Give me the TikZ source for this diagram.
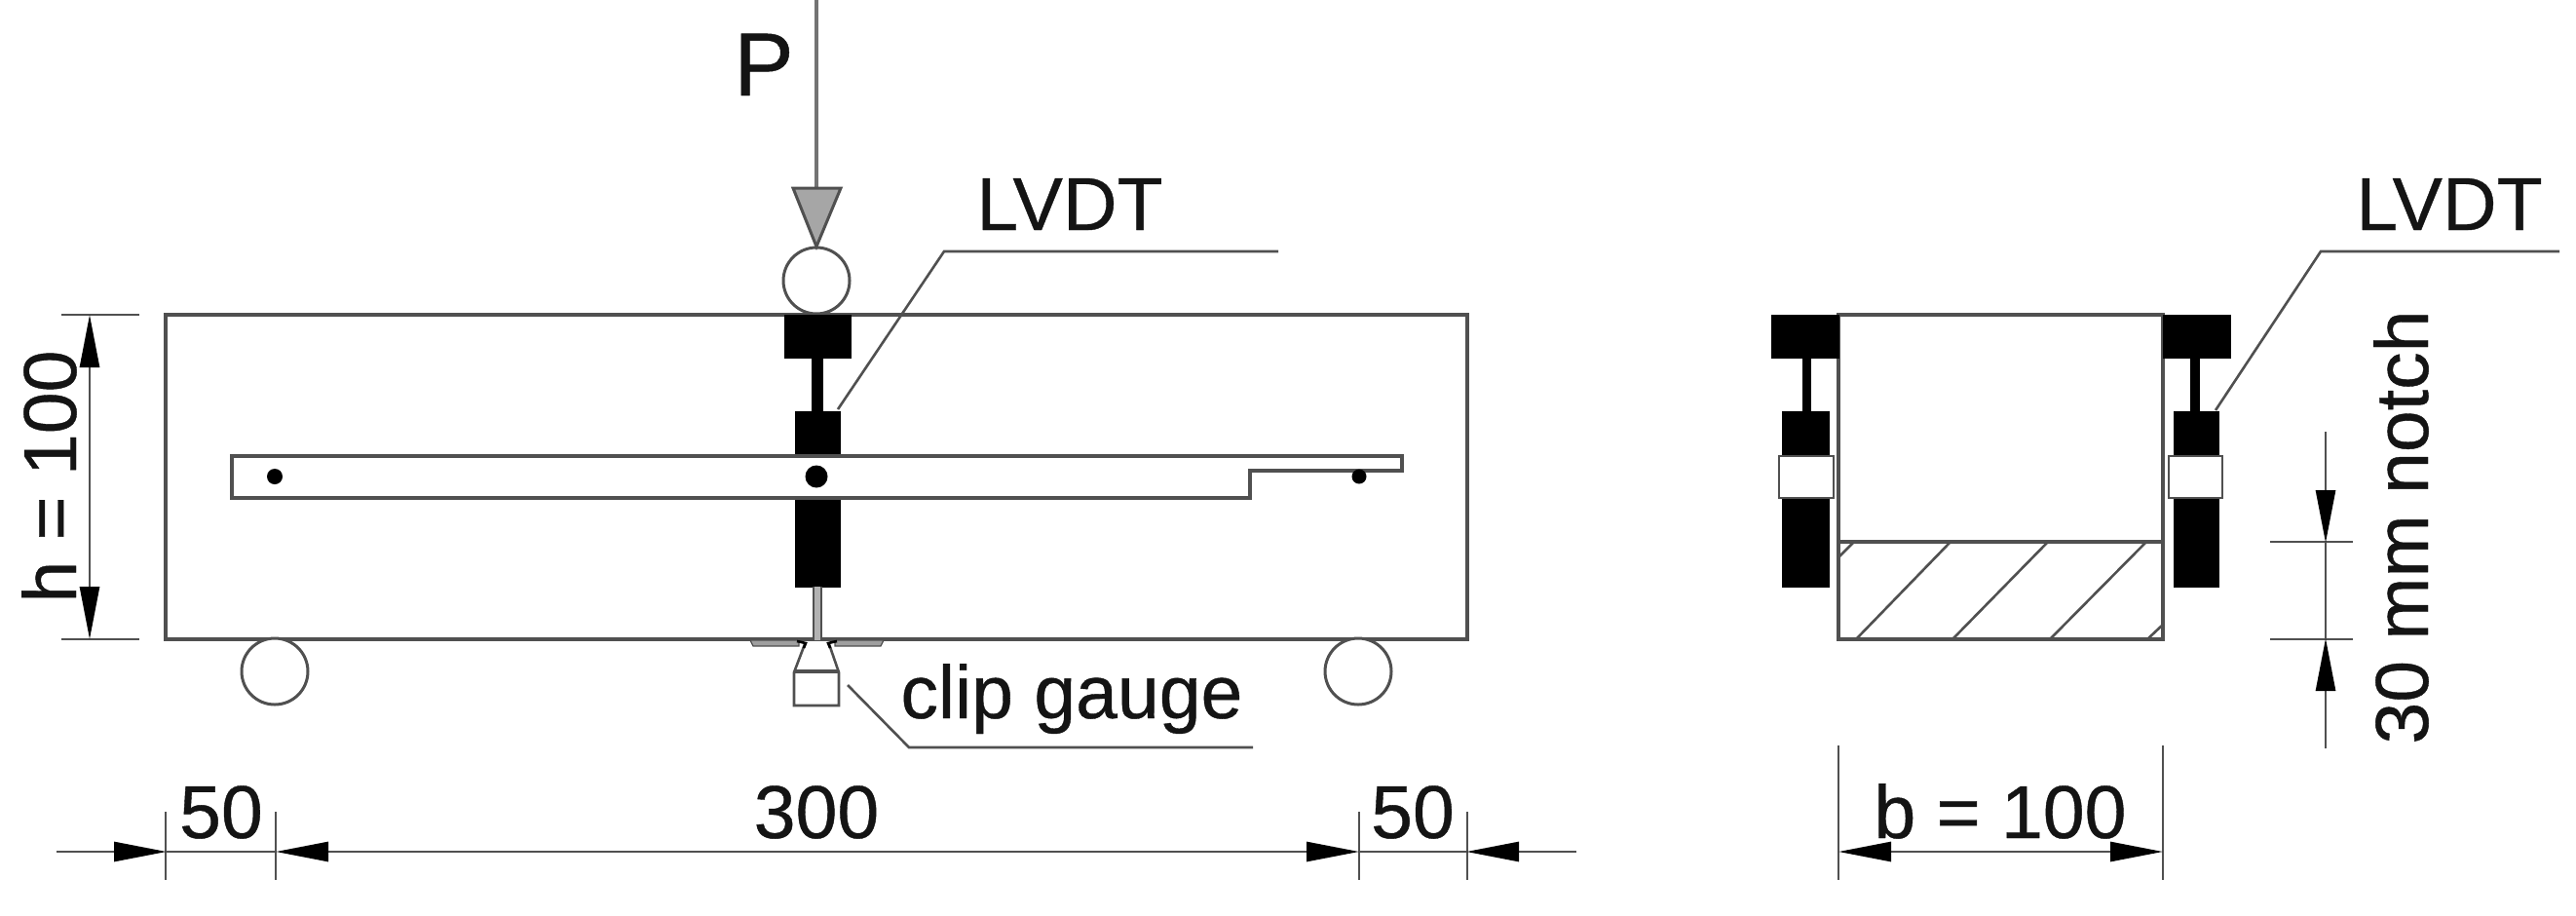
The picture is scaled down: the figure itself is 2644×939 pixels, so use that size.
\documentclass[tikz,border=0pt]{standalone}
\usepackage{fontspec}
\setmainfont{Liberation Sans}
\newfontfamily\lblfont[RawFeature={embolden=0.5}]{Liberation Sans}
\usetikzlibrary{arrows.meta}
\definecolor{ln}{HTML}{505050}
\definecolor{tx}{HTML}{141414}
\tikzset{
  px/.style={x=0.5pt,y=-0.5pt},
  ln/.style={draw=ln,line width=1.9pt},
  thin ln/.style={draw=ln,line width=1.3pt},
  solid black/.style={fill=black,draw=black,line width=0.4pt},
  roller/.style={draw=ln,line width=1.5pt,fill=white},
  label/.style={inner sep=0pt,text=tx,font=\lblfont\fontsize{38.5}{44}\selectfont,anchor=base},
  dimarrow/.style={draw=ln,line width=1.4pt,-{Triangle[length=27pt,width=10pt,fill=black,color=black]},shorten >=-0.5pt},
  dimline/.style={draw=ln,line width=1.4pt},
  dimboth/.style={draw=ln,line width=1.4pt,{Triangle[length=27pt,width=10pt,fill=black,color=black]}-{Triangle[length=27pt,width=10pt,fill=black,color=black]}},
}
\begin{document}
\begin{tikzpicture}[px]
\useasboundingbox (0,0) rectangle (2644,939);
% named ends
\coordinate (hA) at (92,323); \coordinate (hB) at (92,656);
\coordinate (b1) at (58,874); \coordinate (x1) at (170,874); \coordinate (x2) at (283,874);
\coordinate (x3) at (1395,874); \coordinate (x4) at (1506,874); \coordinate (b2) at (1618,874);
\coordinate (s1) at (1887,874); \coordinate (s2) at (2220,874);
\coordinate (n0) at (2387,443); \coordinate (n1) at (2387,556); \coordinate (n2) at (2387,656); \coordinate (n3) at (2387,768);
% specimen
\draw[ln] (170,323) rectangle (1506,656);
% rollers
\node[roller,circle,minimum size=34pt,inner sep=0pt] (rollerL) at (282,689) {};
\node[roller,circle,minimum size=34pt,inner sep=0pt] (rollerR) at (1394,689) {};
\node[roller,circle,minimum size=34pt,inner sep=0pt] (rollerT) at (838,288) {};
% load P
\coordinate (loadtop) at (838,0);
\coordinate (tipL) at (814,193); \coordinate (tipR) at (863,193); \coordinate (tipB) at (838,253);
\draw[draw=ln!80,line width=2.2pt] (loadtop) -- (838,193);
\shade[left color=gray!70,middle color=gray!22,right color=gray!70] (tipL) -- (tipR) -- (tipB) -- cycle;
\draw[draw=ln,line width=1.5pt,line join=miter] (tipL) -- (tipR) -- (tipB) -- cycle;
% central LVDT
\fill[solid black] (805,323) rectangle (873,367);
\fill[solid black] (833,367) rectangle (844,423);
\fill[solid black] (816,422) rectangle (862,602);
% rods below
\fill[gray!60] (835,602) rectangle (843,657);
\draw[draw=ln,line width=1.2pt] (835,602) -- (835,657) (843,602) -- (843,657);
% lever frame
\draw[ln,fill=white] (238,468) -- (1439,468) -- (1439,483) -- (1283,483) -- (1283,511) -- (238,511) -- cycle;
\fill[black] (282,489) circle (8);
\fill[black] (838,489) circle (11.5);
\fill[black] (1395,489) circle (7.5);
% clip gauge
\fill[gray!75,draw=ln,line width=0.6pt] (770,657) -- (820,657) -- (820,663) -- (773,663) -- cycle;
\fill[gray!75,draw=ln,line width=0.6pt] (857,657) -- (907,657) -- (904,663) -- (857,663) -- cycle;
\draw[draw=ln,line width=1.3pt,fill=white] (826,661) -- (815,690) -- (815,724) -- (861,724) -- (861,690) -- (851,661);
\draw[draw=ln,line width=2pt] (815,689) -- (861,689);
\draw[draw=black,line width=1.3pt] (818,658) -- (827,660) -- (825,665) (859,658) -- (850,660) -- (852,665);
% section view
\draw[ln] (1887,323) rectangle (2220,656);
\draw[ln] (1887,556) -- (2220,556);
\draw[thin ln] (1903,556) -- (1887,572) (2002,556) -- (1905,656) (2102,556) -- (2004,656) (2203,556) -- (2104,656) (2221,640) -- (2204,656);
% section left LVDT
\fill[solid black] (1818,323) rectangle (1887,367);
\fill[solid black] (1850,367) rectangle (1858,423);
\fill[solid black] (1829,422) rectangle (1877,602);
\draw[draw=ln,line width=1.3pt,fill=white] (1826,468) rectangle (1882,511);
% section right LVDT
\fill[solid black] (2220,323) rectangle (2289,367);
\fill[solid black] (2248,367) rectangle (2257,423);
\fill[solid black] (2231,422) rectangle (2277,602);
\draw[draw=ln,line width=1.3pt,fill=white] (2226,468) rectangle (2281,511);
% leaders
\coordinate (la) at (860,420); \coordinate (lb) at (969,258); \coordinate (lc) at (1312,258);
\coordinate (ra) at (2274,421); \coordinate (rb) at (2382,258); \coordinate (rc) at (2627,258);
\coordinate (ca) at (870,703); \coordinate (cb) at (933,767); \coordinate (cc) at (1286,767);
\draw[thin ln] (la) -- (lb) -- (lc);
\draw[thin ln] (ra) -- (rb) -- (rc);
\draw[thin ln] (ca) -- (cb) -- (cc);
% h dimension
\draw[dimline] (63,323) -- (143,323) (63,656) -- (143,656);
\draw[dimboth] (hA) -- (hB);
% bottom dimensions
\draw[dimline] (170,833) -- (170,903) (283,833) -- (283,903) (1395,833) -- (1395,903) (1506,833) -- (1506,903);
\draw[dimarrow] (b1) -- (x1);
\draw[dimline] (x1) -- (x2);
\draw[dimboth] (x2) -- (x3);
\draw[dimline] (x3) -- (x4);
\draw[dimarrow] (b2) -- (x4);
% section width
\draw[dimline] (1887,765) -- (1887,903) (2220,765) -- (2220,903);
\draw[dimboth] (s1) -- (s2);
% notch dimension
\draw[dimline] (2330,556) -- (2415,556) (2330,656) -- (2415,656);
\draw[dimarrow] (n0) -- (n1);
\draw[dimline] (n1) -- (n2);
\draw[dimarrow] (n3) -- (n2);
% labels
\node[label,font=\lblfont\fontsize{46}{50}\selectfont] (tP) at (784,98) {P};
\node[label] (tL1) at (1098,236) {LVDT};
\node[label] (tL2) at (2514,236) {LVDT};
\node[label] (tclip) at (1100,737) {clip gauge};
\node[label] (t50a) at (227,860) {50};
\node[label] (t300) at (838,860) {300};
\node[label] (t50b) at (1450,860) {50};
\node[label] (tb) at (2053,860) {b = 100};
\node[label,rotate=90] (th) at (78,489) {h = 100};
\node[label,rotate=90] (tn) at (2492,541) {30 mm notch};
\end{tikzpicture}
\end{document}
